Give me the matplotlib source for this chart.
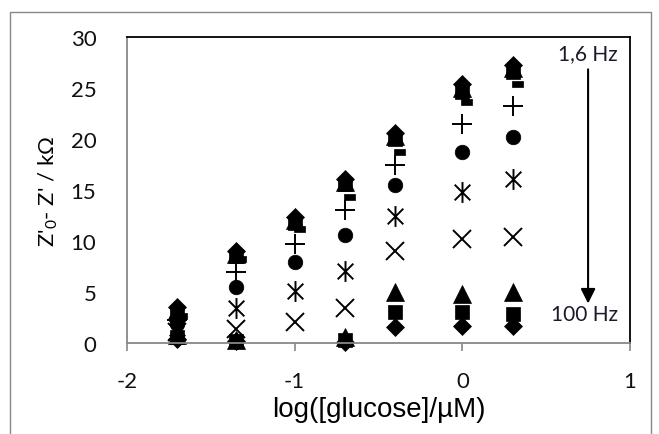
import numpy as np
import matplotlib
matplotlib.use("Agg")
import matplotlib.pyplot as plt
from matplotlib.path import Path
from matplotlib.patches import Rectangle

plt.rcParams['mathtext.fontset'] = 'custom'
plt.rcParams['mathtext.rm'] = 'Lato'
plt.rcParams['mathtext.it'] = 'Lato:italic'

# ---- data ----
log_conc = [-1.7, -1.35, -1.0, -0.7, -0.4, 0.0, 0.3]
nan = np.nan
s_diamond_hi = [3.5, 9.0, 12.4, 16.1, 20.6, 25.4, 27.3]
s_triangle_hi = [3.2, 8.7, 12.1, 15.8, 20.3, 25.0, 27.0]
s_square_hi = [3.0, 8.5, 11.8, 15.6, 20.0, 24.6, 26.6]
s_dash = [2.6, 8.2, 11.2, 14.3, 18.7, 23.6, 25.4]
s_plus = [2.3, 7.0, 9.7, 13.0, 17.5, 21.5, 23.2]
s_circle = [1.9, 5.5, 7.9, 10.6, 15.5, 18.7, 20.2]
s_asterisk = [1.5, 3.4, 5.1, 7.1, 12.5, 14.8, 16.1]
s_x = [1.1, 1.4, 2.1, 3.4, 9.0, 10.2, 10.4]
s_triangle_lo = [0.8, 0.3, nan, 0.6, 5.0, 4.8, 5.0]
s_square_lo = [0.6, 0.2, nan, 0.3, 3.0, 3.0, 2.8]
s_diamond_lo = [0.4, 0.2, nan, 0.1, 1.6, 1.7, 1.7]

xticks = [-2, -1, 0, 1]
yticks = [0, 5, 10, 15, 20, 25, 30]

# ---- custom markers ----
asterisk = Path([(0, -1), (0, 1), (-0.75, -0.75), (0.75, 0.75), (-0.75, 0.75), (0.75, -0.75)],
                [Path.MOVETO, Path.LINETO, Path.MOVETO, Path.LINETO, Path.MOVETO, Path.LINETO])
dash = Path([(-0.1, -0.3), (1.0, -0.3), (1.0, 0.3), (-0.1, 0.3), (-0.1, -0.3)],
            [Path.MOVETO, Path.LINETO, Path.LINETO, Path.LINETO, Path.CLOSEPOLY])

fig = plt.figure(figsize=(6.59, 4.35), dpi=100)
ax = fig.add_axes([127/659, 1-344/435, (630-127)/659, (344-38)/435])

def sc(y, marker, ms, filled=True, mew=1.4):
    if filled:
        ax.plot(log_conc, y, linestyle='none', marker=marker, ms=ms, color='black',
                mfc='black', mec='black', mew=0.5, clip_on=False)
    else:
        ax.plot(log_conc, y, linestyle='none', marker=marker, ms=ms, color='black',
                mew=mew, clip_on=False)

sc(s_diamond_lo, 'D', 9.5)
sc(s_square_lo, 's', 10)
sc(s_triangle_lo, '^', 13.5)
sc(s_x, 'x', 13, filled=False)
sc(s_asterisk, asterisk, 15, filled=False)
sc(s_circle, 'o', 10.5)
sc(s_plus, '+', 14, filled=False)
sc(s_dash, dash, 15)
sc(s_square_hi, 's', 10)
sc(s_triangle_hi, '^', 13.5)
sc(s_diamond_hi, 'D', 9.5)

ax.set_xlim(-2, 1)
ax.set_ylim(0, 30)
ax.set_xticks(xticks)
ax.set_yticks(yticks)
ax.set_xticklabels([str(t) for t in xticks], fontfamily='Lato', fontsize=16, color='#111111')
ax.set_yticklabels([str(t) for t in yticks], fontfamily='Lato', fontsize=16, color='#111111')
ax.tick_params(axis='x', direction='out', length=6, width=1.2, color='#888888', pad=14)
ax.tick_params(axis='y', length=0, pad=22)

for s in ['left', 'bottom']:
    ax.spines[s].set_color('#888888')
    ax.spines[s].set_linewidth(1.3)
for s in ['top', 'right']:
    ax.spines[s].set_color('black')
    ax.spines[s].set_linewidth(1.3)

ax.set_xlabel('log([glucose]/µM)', fontfamily='Liberation Sans', fontsize=20, labelpad=4)
ax.set_ylabel("Z'$_{\\mathregular{0}}$- Z' / kΩ", fontfamily='Lato', fontsize=16, labelpad=8)

ax.annotate('', xy=(0.75, 3.6), xytext=(0.75, 27.1),
            arrowprops=dict(arrowstyle='-|>', color='black', lw=1.5, mutation_scale=22))
ax.text(0.75, 28.4, '1,6 Hz', ha='center', va='center', fontfamily='Lato', fontsize=15, color='#1a1a2a')
ax.text(0.73, 2.8, '100 Hz', ha='center', va='center', fontfamily='Lato', fontsize=15, color='#1a1a2a')

fig.patches.append(Rectangle((10/659, -0.05), (651-10)/659, 1.05-13/435,
                             transform=fig.transFigure, fill=False, edgecolor='#888888', lw=1.0))

fig.savefig('out.png', dpi=100)
